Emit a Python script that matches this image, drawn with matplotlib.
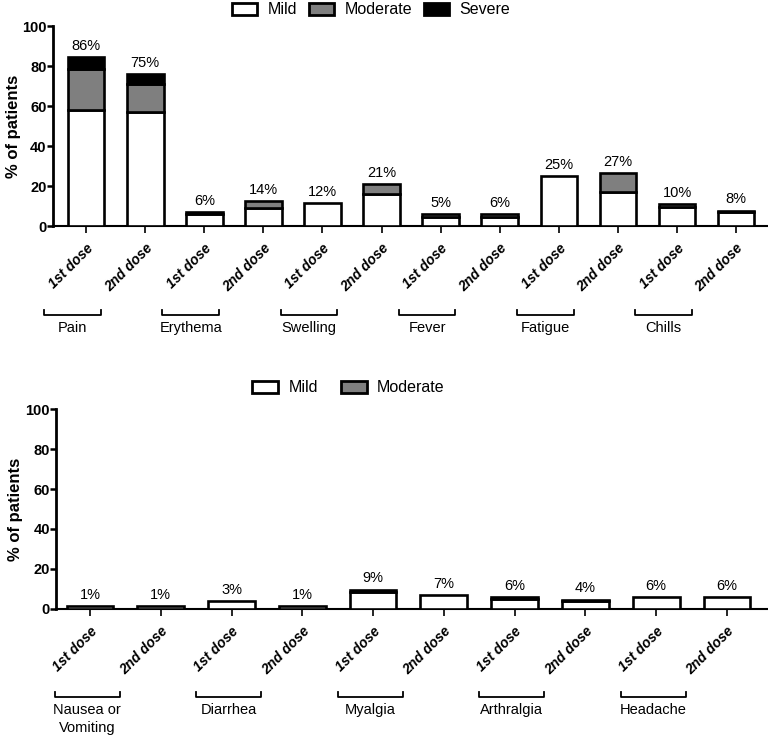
import numpy as np
import matplotlib
matplotlib.use('Agg')
import matplotlib.pyplot as plt
import matplotlib.transforms as mtransforms
from matplotlib.patches import Patch

plt.rcParams['font.family'] = ['Liberation Sans', 'DejaVu Sans']

# ---- data ----
doses = ['1st dose', '2nd dose']

top_groups = ['Pain', 'Erythema', 'Swelling', 'Fever', 'Fatigue', 'Chills']
top_mild = [58, 57, 6, 9, 11.5, 16, 4.5, 4.5, 25, 17, 9.5, 7]
top_moderate = [20.5, 14, 1, 3.5, 0, 5, 1.5, 1.5, 0, 9.5, 1.5, 0.75]
top_severe = [6, 5, 0, 0, 0, 0, 0, 0, 0, 0, 0, 0]
top_labels = [86, 75, 6, 14, 12, 21, 5, 6, 25, 27, 10, 8]

bot_groups = ['Nausea or\nVomiting', 'Diarrhea', 'Myalgia', 'Arthralgia', 'Headache']
bot_mild = [1.2, 1.2, 3.8, 1.2, 8.6, 6.8, 5, 3.8, 5.8, 5.8]
bot_moderate = [0, 0, 0, 0, 1, 0, 0.8, 0.8, 0, 0]
bot_labels = [1, 1, 3, 1, 9, 7, 6, 4, 6, 6]

MILD, MOD, SEV = 'white', '#7f7f7f', 'black'
EDGE_LW = 1.9


def draw_panel(ax, groups, layers, labels, width, xlim, shift, half, ylab_x):
    n = len(labels)
    x = np.arange(n)
    bottom = np.zeros(n)
    for vals, color in layers:
        vals = np.asarray(vals, dtype=float)
        m = vals > 0
        ax.bar(x[m], vals[m], width, bottom=bottom[m], color=color,
               edgecolor='black', linewidth=EDGE_LW, zorder=3)
        bottom += vals
    for xi, top, lab in zip(x, bottom, labels):
        ax.annotate(f'{lab}%', (xi, top), xytext=(0, 3), textcoords='offset points',
                    ha='center', va='bottom', fontsize=10.5)

    ax.set_xlim(*xlim)
    ax.set_ylim(0, 100)
    ax.set_yticks(range(0, 101, 20))
    ax.set_xticks(x)
    ax.set_xticklabels(doses * len(groups), rotation=45, ha='right',
                       rotation_mode='anchor', fontsize=10, fontweight='bold',
                       fontstyle='italic')
    for t in ax.get_yticklabels():
        t.set_fontweight('bold')
        t.set_fontsize(10.5)
    ax.tick_params(axis='y', direction='out', length=4, width=1.8, pad=0.5)
    ax.tick_params(axis='x', direction='out', length=5, width=1.2, pad=6)
    ax.spines['top'].set_visible(False)
    ax.spines['right'].set_visible(False)
    ax.spines['left'].set_linewidth(2)
    ax.spines['bottom'].set_linewidth(1.5)
    ax.set_ylabel('% of patients', fontsize=12, fontweight='bold')
    ax.yaxis.set_label_coords(ylab_x, 0.5)

    # group brackets under the dose labels
    trans = mtransforms.blended_transform_factory(ax.transData, ax.transAxes)
    for g, name in enumerate(groups):
        c = 2 * g + 0.5 + shift
        ax.plot([c - half, c - half, c + half, c + half], [-0.418, -0.443, -0.443, -0.418],
                color='black', lw=1.3, transform=trans, clip_on=False)
        ax.text(c, -0.475, name, ha='center', va='top', transform=trans,
                fontsize=10.5, linespacing=1.35)


fig = plt.figure(figsize=(7.68, 7.36), dpi=100)
ax1 = fig.add_axes([53 / 768, 1 - 226 / 736, 715 / 768, 200 / 736])
ax2 = fig.add_axes([56 / 768, 1 - 608.7 / 736, 712 / 768, 199.4 / 736])

draw_panel(ax1, top_groups, [(top_mild, MILD), (top_moderate, MOD), (top_severe, SEV)],
           top_labels, 0.62, (-0.56, 11.54), -0.73, 0.48, -0.045)
draw_panel(ax2, bot_groups, [(bot_mild, MILD), (bot_moderate, MOD)],
           bot_labels, 0.66, (-0.48, 9.58), -0.54, 0.46, -0.047)

h_top = [Patch(facecolor=c, edgecolor='black', lw=2, label=l)
         for c, l in [(MILD, 'Mild'), (MOD, 'Moderate'), (SEV, 'Severe')]]
fig.legend(handles=h_top, loc='center', bbox_to_anchor=(371 / 768, 1 - 10 / 736), ncol=3,
           frameon=False, fontsize=11.5, handlelength=1.6, handleheight=0.85,
           handletextpad=0.65, columnspacing=0.72, borderpad=0, borderaxespad=0)
h_bot = h_top[:2]
fig.legend(handles=h_bot, loc='center', bbox_to_anchor=(348.5 / 768, 1 - 388 / 736), ncol=2,
           frameon=False, fontsize=11.5, handlelength=1.6, handleheight=0.85,
           handletextpad=0.65, columnspacing=1.45, borderpad=0, borderaxespad=0)

fig.savefig('out.png', dpi=100)
